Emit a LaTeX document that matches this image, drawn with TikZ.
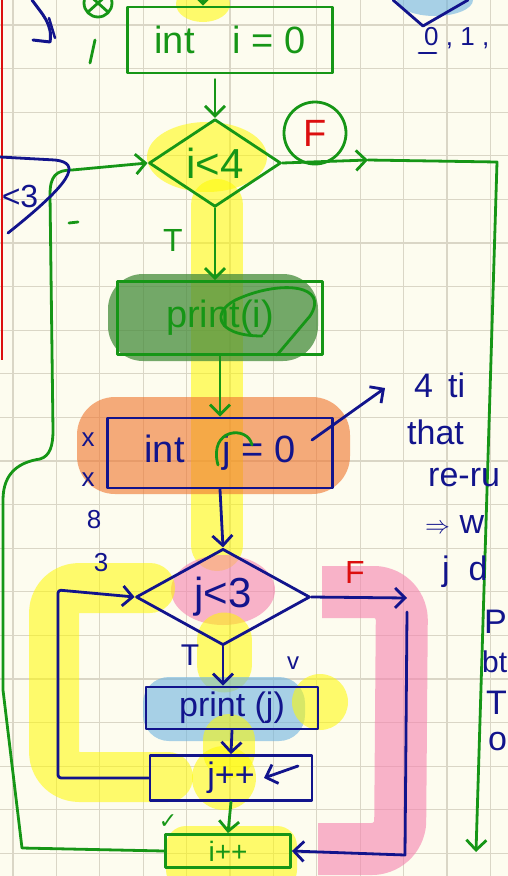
\documentclass[tikz,border=0pt]{standalone}
\usepackage{fontspec}
\setmainfont{Liberation Sans}
\newfontfamily\dvs{DejaVu Sans}
\usetikzlibrary{shapes.geometric,arrows.meta}
\definecolor{paper}{RGB}{253,252,239}
\definecolor{gridc}{RGB}{218,214,198}
\definecolor{grn}{RGB}{22,150,22}
\definecolor{navy}{RGB}{18,20,140}
\definecolor{redc}{RGB}{220,15,15}
\definecolor{hly}{RGB}{255,250,0}
\definecolor{hlp}{RGB}{246,130,175}
\definecolor{hlo}{RGB}{240,120,50}
\definecolor{hlg}{RGB}{70,140,60}
\definecolor{hlb}{RGB}{110,180,225}
\tikzset{
  gline/.style={draw=grn,line width=2.8pt,line cap=round,line join=round},
  nline/.style={draw=navy,line width=2.8pt,line cap=round,line join=round},
  tip/.style={-{Straight Barb[length=10pt,width=20pt]}},
  big/.style={font=\fontsize{38}{42}\selectfont},
  gbox/.style={gline,rectangle,text=grn,big,inner sep=0pt},
  nbox/.style={nline,rectangle,text=navy,big,inner sep=0pt},
  gdia/.style={gline,diamond,text=grn,big,inner sep=0pt},
  ndia/.style={nline,diamond,text=navy,big,inner sep=0pt},
  gtext/.style={text=grn,big,inner sep=0pt},
  ntext/.style={text=navy,big,inner sep=0pt},
  note/.style={text=navy,font=\fontsize{34}{38}\selectfont,inner sep=0pt,anchor=west},
  hy/.style={fill=hly,fill opacity=0.55,draw=none},
  hyl/.style={draw=hly,draw opacity=0.55,line cap=round,line join=round},
}
\begin{document}
\begin{tikzpicture}[x=1pt,y=-1pt]
\fill[paper] (0,0) rectangle (508,876);
\useasboundingbox (0,0) rectangle (508,876);
\clip (0,0) rectangle (508,876);
% grid
\foreach \gx in {0,...,11} \draw[gridc,line width=1.1pt] ({13+43.4*\gx},0) -- ++(0,876);
\foreach \gy in {0,...,19} \draw[gridc,line width=1.1pt] (0,{25+43.6*\gy}) -- ++(508,0);
\draw[redc,line width=2pt] (1.5,0) -- (1.5,360);

% ---- highlights ----
\fill[hy] (203,4) ellipse (27pt and 18pt);
\fill[hy] (207,157) ellipse (60pt and 35pt);
\draw[hyl,line width=52pt] (217,205) -- (217,545);
\fill[hlg,fill opacity=0.75,rounded corners=35pt] (108,274) rectangle (318,361);
\fill[hlo,fill opacity=0.62,rounded corners=38pt] (77,397) rectangle (350,494);
\fill[hlp,fill opacity=0.6] (223,590) ellipse (52pt and 35pt);
\draw[draw=hlp,draw opacity=0.6,line width=52pt,line join=round,rounded corners=28pt] (322,592) -- (402,592) -- (400,849) -- (318,849);
\draw[hyl,line width=50pt,rounded corners=25pt] (150,588) -- (54,588) -- (54,777) -- (168,777);
\draw[hyl,line width=55pt] (224,640) -- (224,665);
\fill[hlb,fill opacity=0.6,rounded corners=26pt] (143,677) rectangle (305,741);
\fill[hy] (320,702) circle (28pt);
\draw[hyl,line width=52pt] (229,740) -- (229,752);
\fill[hy] (224,778) circle (32pt);
\fill[hy,rounded corners=20pt] (166,826) rectangle (297,890);
\fill[hlb,fill opacity=0.6] (435,0) ellipse (38pt and 16pt);

% ---- main flow ----
\node[gbox,minimum width=205pt,minimum height=66pt] (ii) at (230,40) {int\quad i = 0};
\node[gdia,minimum width=132pt,minimum height=84pt,font=\fontsize{42}{46}\selectfont] (ci) at (215,163) {i<4};
\node[circle,draw=grn,line width=2.8pt,minimum size=62pt,text=redc,big,inner sep=0pt] (fc) at (315,133) {F};
\node[gtext,font=\fontsize{32}{36}\selectfont] (t1) at (173,240) {T};
\node[gbox,minimum width=205pt,minimum height=73pt] (pi) at (220,318) {print(i)};
\node[nbox,minimum width=225pt,minimum height=70pt] (ij) at (220,453) {int\quad j = 0};
\node[ndia,minimum width=174pt,minimum height=84pt,font=\fontsize{42}{46}\selectfont] (cj) at (223,597) {j<3};
\node[text=redc,font=\fontsize{32}{36}\selectfont,inner sep=0pt] (f2) at (355,572) {F};
\node[ntext,font=\fontsize{30}{34}\selectfont] (t2) at (190,655) {T};
\node[nbox,minimum width=172pt,minimum height=42pt,font=\fontsize{34}{38}\selectfont] (pj) at (232,708) {print (j)};
\node[ntext,font=\fontsize{24}{28}\selectfont] (v1) at (293,663) {v};
\node[nbox,minimum width=162pt,minimum height=45pt,font=\fontsize{34}{38}\selectfont] (jj) at (231,778) {j++};
\node[gbox,minimum width=125pt,minimum height=33pt,font=\fontsize{28}{30}\selectfont] (ic) at (228,851) {i++};
\node[gtext,font=\dvs\fontsize{22}{26}\selectfont] (ck) at (168,822) {✓};

% ---- connectors ----
\coordinate (topin) at (203,-6);
\draw[gline,tip] (topin) -- (topin |- ii.north);
\draw[gline,tip] ([yshift=-5pt]ii.south -| ci.north) -- (ci.north);
\coordinate (fa) at (368,160);
\coordinate (fr) at (497,162);
\coordinate (fend) at (476,852);
\draw[gline,tip] (ci.east) -- (fa);
\draw[gline,tip] (fa) -- (fr) -- (fend);
\draw[gline,tip] (ci.south) -- (ci.south |- pi.north);
\draw[gline,tip] (pi.south) -- (ij.north);
\draw[nline,tip] (ij.south) -- (cj.north);
\coordinate (ja) at (407,598);
\draw[nline,tip] (cj.east) -- (ja);
\coordinate (jr) at (407,612);
\coordinate (jb) at (405,855);
\draw[nline,tip] (jr) -- (jb) -- (ic.east);
\draw[nline,tip] (cj.south) -- (cj.south |- pj.north);
\draw[nline,tip] (pj.south) -- (jj.north);
\draw[gline,tip] (jj.south) -- (ic.north);
\coordinate (sa) at (298,766);
\coordinate (sb) at (264,778);
\draw[nline,tip] (sa) -- (sb);
% inner loop
\draw[nline,tip,rounded corners=3pt] (jj.west) -- (58,778) -- (58,590) -- (cj.west);
% outer loop
\draw[gline,tip] (ic.west) -- (22,848) -- (3,690) -- (3,500)
  .. controls (3,472) and (20,462) .. (40,459)
  .. controls (50,456) and (53,446) .. (53,430) -- (50,195)
  .. controls (50,176) and (56,170) .. (72,170) -- (ci.west);

% ---- scribbles ----
\draw[nline,line width=3pt] (32,0) .. controls (42,14) and (53,24) .. (50,42) -- (33,40);
\draw[nline,line width=2.5pt] (49,18) -- (55,38);
\draw[gline] (98,3) circle (14pt);
\draw[gline] (88,-6) -- (108,12) (108,-6) -- (88,12);
\draw[gline] (95,40) -- (90,63);
\node[ntext,font=\fontsize{32}{36}\selectfont] (lt3) at (20,196) {<3};
\draw[nline] (0,157) -- (55,160) .. controls (82,163) and (72,182) .. (8,233);
\draw[gline] (69,223) -- (78,222);
\draw[gline] (218,465) .. controls (208,428) and (248,425) .. (252,445);
\draw[gline] (262,336) .. controls (214,336) and (210,310) .. (240,298)
  .. controls (282,280) and (330,285) .. (310,316) -- (277,355);
\coordinate (ba) at (312,440);
\coordinate (bb) at (385,388);
\draw[nline,tip] (ba) -- (bb);
\node[ntext,font=\fontsize{26}{30}\selectfont] (x1) at (88,440) {x};
\node[ntext,font=\fontsize{26}{30}\selectfont] (x2) at (88,480) {x};
\node[ntext,font=\fontsize{26}{30}\selectfont] (x3) at (94,520) {8};
\node[ntext,font=\fontsize{26}{30}\selectfont] (x4) at (101,563) {3};
% top right
\draw[nline] (393,0) -- (423,26) -- (468,0);
\node[ntext,font=\fontsize{26}{30}\selectfont,anchor=west] (zo) at (424,38) {0 , 1 ,};
\draw[nline] (419,53) -- (436,53);
% right notes
\node[note] (n1) at (414,385) {4\, ti};
\node[note] (n2) at (407,432) {that};
\node[note] (n3) at (428,478) {re-ru};
\node[note] (n4) at (425,525) {$\Rightarrow$ w};
\node[note] (n5) at (442,572) {j\; d};
\node[note] (n6) at (484,622) {P};
\node[note,font=\fontsize{30}{34}\selectfont] (n7) at (482,662) {bt};
\node[note] (n8) at (486,703) {T};
\node[note] (n9) at (488,742) {o};
\end{tikzpicture}
\end{document}
